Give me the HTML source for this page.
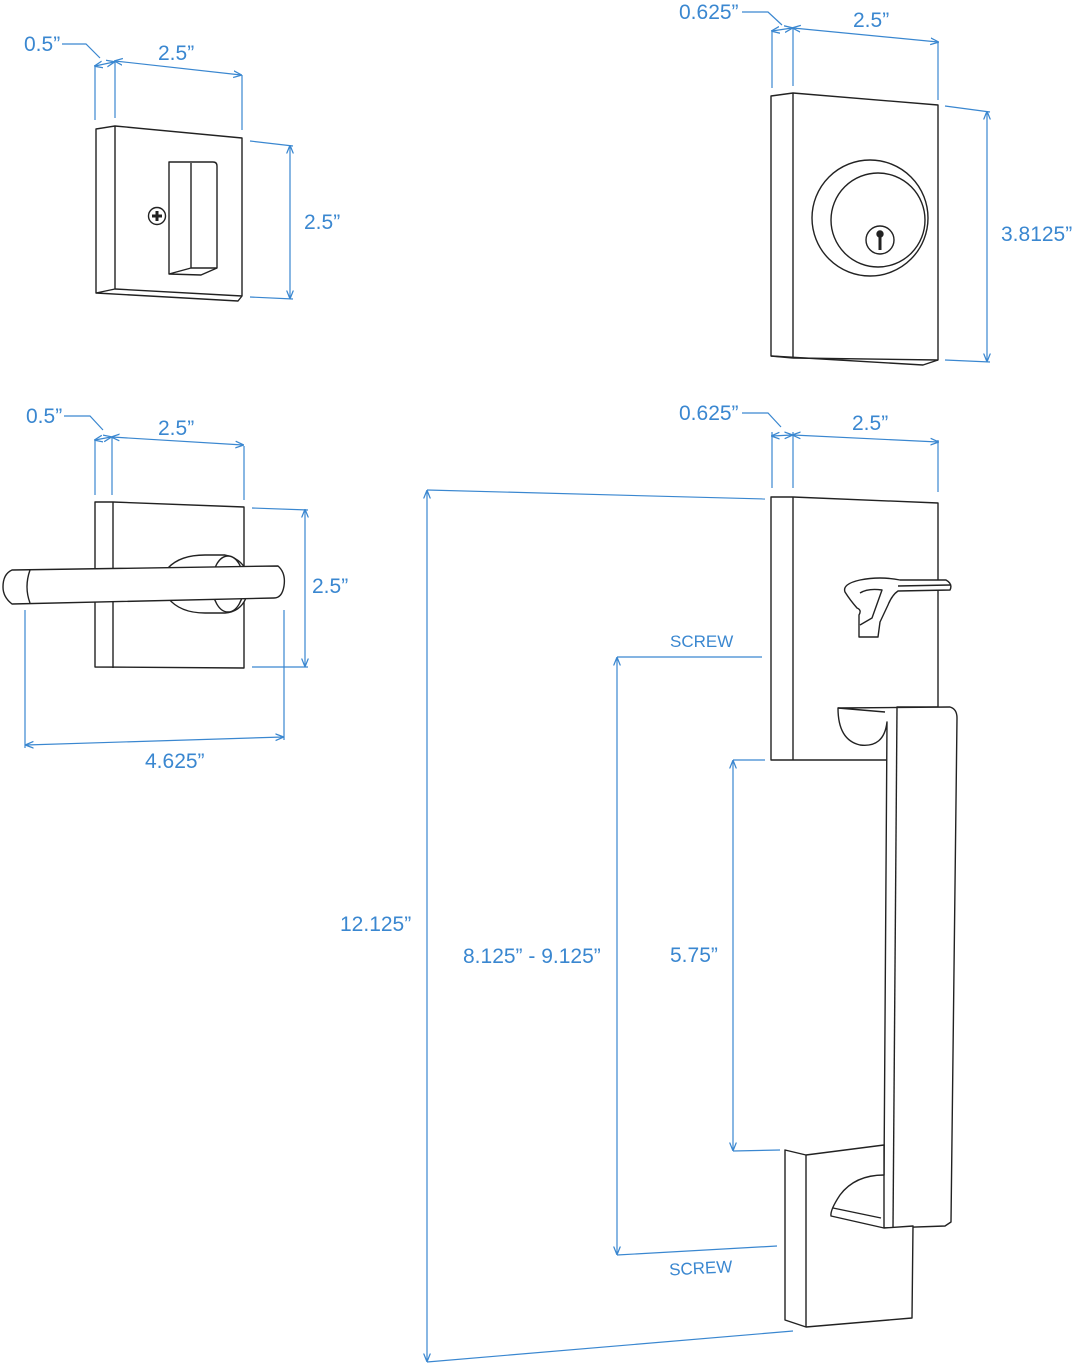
<!DOCTYPE html>
<html><head><meta charset="utf-8"><style>
html,body{margin:0;padding:0;background:#fff;width:1079px;height:1366px;overflow:hidden}
svg text{font-family:"Liberation Sans",sans-serif;fill:#3a87d0;font-size:21px}
</style></head><body>
<svg width="1079" height="1366" viewBox="0 0 1079 1366" xmlns="http://www.w3.org/2000/svg">
<defs>
<marker id="a" viewBox="0 0 10 10" refX="9" refY="5" markerWidth="7" markerHeight="7" orient="auto-start-reverse"><path d="M0,1 L10,5 L0,9" fill="none" stroke="#3a87d0" stroke-width="1.5"/></marker>
</defs>
<g stroke="#3a87d0" stroke-width="1.2" fill="none">
<line x1="95" y1="65" x2="95" y2="120"/><line x1="115" y1="62" x2="115" y2="118"/><line x1="242" y1="75" x2="242" y2="130"/>
<line x1="115" y1="61" x2="241" y2="75" marker-start="url(#a)" marker-end="url(#a)"/>
<line x1="95" y1="66" x2="114" y2="62" marker-start="url(#a)" marker-end="url(#a)"/>
<polyline points="62,44 86,44 100,58"/>
<line x1="250" y1="141" x2="293" y2="146"/><line x1="250" y1="297" x2="293" y2="299"/>
<line x1="290" y1="146" x2="290" y2="298" marker-start="url(#a)" marker-end="url(#a)"/>
<line x1="772" y1="30" x2="772" y2="88"/><line x1="793" y1="28" x2="793" y2="86"/><line x1="938" y1="42" x2="938" y2="100"/>
<line x1="793" y1="28" x2="938" y2="42" marker-start="url(#a)" marker-end="url(#a)"/>
<line x1="772" y1="31" x2="792" y2="28" marker-start="url(#a)" marker-end="url(#a)"/>
<polyline points="742,12 768,12 782,25"/>
<line x1="945" y1="106" x2="990" y2="112"/><line x1="945" y1="360" x2="990" y2="362"/>
<line x1="987" y1="112" x2="987" y2="361" marker-start="url(#a)" marker-end="url(#a)"/>
<line x1="95" y1="440" x2="95" y2="495"/><line x1="112" y1="438" x2="112" y2="495"/><line x1="244" y1="446" x2="244" y2="500"/>
<line x1="112" y1="437" x2="243" y2="445" marker-start="url(#a)" marker-end="url(#a)"/>
<line x1="95" y1="440" x2="111" y2="437" marker-start="url(#a)" marker-end="url(#a)"/>
<polyline points="64,416 90,416 103,430"/>
<line x1="252" y1="508" x2="308" y2="510"/><line x1="252" y1="667" x2="308" y2="667"/>
<line x1="305" y1="510" x2="305" y2="666" marker-start="url(#a)" marker-end="url(#a)"/>
<line x1="25" y1="610" x2="25" y2="748"/><line x1="284" y1="610" x2="284" y2="740"/>
<line x1="26" y1="745" x2="283" y2="737" marker-start="url(#a)" marker-end="url(#a)"/>
<line x1="772" y1="432" x2="772" y2="488"/><line x1="793" y1="432" x2="793" y2="488"/><line x1="938" y1="440" x2="938" y2="492"/>
<line x1="793" y1="435" x2="938" y2="442" marker-start="url(#a)" marker-end="url(#a)"/>
<line x1="772" y1="436" x2="792" y2="435" marker-start="url(#a)" marker-end="url(#a)"/>
<polyline points="742,413 768,413 781,427"/>
<line x1="427" y1="490" x2="765" y2="499"/><line x1="427" y1="1362" x2="793" y2="1331"/>
<line x1="427" y1="491" x2="427" y2="1361" marker-start="url(#a)" marker-end="url(#a)"/>
<line x1="617" y1="657" x2="762" y2="657"/><line x1="617" y1="1255" x2="777" y2="1246"/>
<line x1="617" y1="658" x2="617" y2="1254" marker-start="url(#a)" marker-end="url(#a)"/>
<line x1="733" y1="760" x2="765" y2="760"/><line x1="733" y1="1151" x2="780" y2="1150"/>
<line x1="733" y1="761" x2="733" y2="1150" marker-start="url(#a)" marker-end="url(#a)"/>
</g>
<g stroke="#222" stroke-width="1.4" fill="#fff" stroke-linejoin="round">
<path d="M96,129 L115,126 L242,138 L242,296 L238,301 L96,293 Z"/>
<line x1="115" y1="126" x2="115" y2="289"/><line x1="96" y1="293" x2="115" y2="289"/><line x1="115" y1="289" x2="242" y2="296"/>
<path d="M169,162 L213,162 Q217,162 217,166 L217,268 L201,275 L169,274 Z"/>
<line x1="191" y1="163" x2="191" y2="268"/><line x1="169" y1="274" x2="191" y2="268"/><line x1="191" y1="268" x2="217" y2="268"/>
<circle cx="157" cy="216" r="8.5"/>
<path d="M157,211 V221 M152,216 H162" stroke-width="3"/>
<path d="M771,96 L793,93 L938,105 L938,360 L923,365 L771,356 Z"/>
<line x1="793" y1="93" x2="793" y2="358"/><line x1="771" y1="356" x2="793" y2="358"/><line x1="793" y1="358" x2="938" y2="360"/>
<circle cx="870" cy="218" r="58"/>
<circle cx="878" cy="220" r="47"/>
<circle cx="880" cy="240" r="14"/>
<path d="M880,234 V250" stroke-width="3"/><circle cx="880" cy="234" r="3" fill="#222"/>
<path d="M95,502 L113,502 L244,507 L244,668 L95,667 Z"/>
<line x1="113" y1="502" x2="113" y2="668"/>
<path d="M168,568 Q180,555 205,555 L225,555 Q240,558 246,570 L246,598 Q240,612 225,613 L205,613 Q180,613 168,598 Z"/>
<ellipse cx="228" cy="584" rx="16" ry="28"/>
<path d="M12,570 L278,566 Q286,573 284,586 Q282,598 274,598 L12,604 Q3,597 3,587 Q3,574 12,570 Z"/>
<path d="M30,570 Q24,587 30,603" fill="none"/>
<path d="M771,497 L793,497 L938,503 L938,707 L897,707 L893,760 L771,760 Z"/>
<line x1="793" y1="497" x2="793" y2="760"/>
<path d="M845,592 Q842,584 860,580 Q880,576 900,580 L946,580 Q953,584 950,590 L898,591 Q892,595 888,605 L880,622 L878,637 L859,637 L859,615 Q862,610 857,608 Q850,600 845,592 Z"/>
<path d="M860,593 Q868,588 882,590 L872,618 L860,625" fill="none"/>
<line x1="898" y1="586" x2="950" y2="585"/>
<path d="M838,708 L950,707 Q957,709 957,718 L951,1222 L945,1226 L886,1228 L831,1214 Q830,1205 838,1195 Q855,1180 884,1175 L887,722 Q884,748 860,745 Q838,740 838,708 Z"/>
<line x1="897" y1="708" x2="893" y2="1228"/>
<path d="M838,708 L885,712" fill="none"/>
<path d="M785,1150 L806,1155 L884,1145 L884,1228 L913,1226 L912,1318 L806,1327 L785,1320 Z"/>
<line x1="806" y1="1155" x2="806" y2="1327"/>
<path d="M884,1175 Q855,1175 840,1195 Q830,1210 831,1216 L884,1228" fill="none"/>
<line x1="833" y1="1208" x2="881" y2="1218"/>
</g>
<text x="24" y="51">0.5”</text>
<text x="158" y="60">2.5”</text>
<text x="304" y="229">2.5”</text>
<text x="679" y="19">0.625”</text>
<text x="853" y="27">2.5”</text>
<text x="1001" y="241">3.8125”</text>
<text x="26" y="423">0.5”</text>
<text x="158" y="435">2.5”</text>
<text x="312" y="593">2.5”</text>
<text x="145" y="768">4.625”</text>
<text x="679" y="420">0.625”</text>
<text x="852" y="430">2.5”</text>
<text x="340" y="931">12.125”</text>
<text x="463" y="963">8.125” - 9.125”</text>
<text x="670" y="962">5.75”</text>
<text x="670" y="647" style="font-size:17px">SCREW</text>
<text x="669" y="1274" style="font-size:17px" transform="rotate(-3 697 1266)">SCREW</text>
</svg>
</body></html>
